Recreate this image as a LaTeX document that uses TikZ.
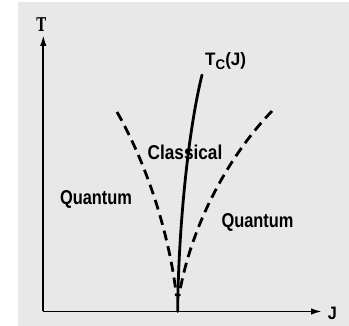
\documentclass[tikz,border=0pt]{standalone}
\usepackage{fontspec}
\usepackage{graphicx}
\setsansfont{Liberation Sans}
\newfontfamily\slabfont{DejaVu Serif}
\usetikzlibrary{arrows.meta}
\newcommand{\narrow}[2]{\scalebox{#1}[1]{#2}}
\begin{document}
\begin{tikzpicture}[x=1pt,y=-1pt,
  lbl/.style={font=\sffamily\bfseries\fontsize{20}{20}\selectfont, inner sep=0pt},
  axis/.style={line width=1.8pt, -{Latex[length=11pt,width=6.5pt]}},
  crit/.style={line width=2.8pt, line cap=round},
  xover/.style={line width=2.8pt, dash pattern=on 10pt off 6pt}]
\useasboundingbox (0,0) rectangle (349,326);
\fill[white] (0,0) rectangle (349,326);
\fill[black!9] (18,2) rectangle (349,326);
\coordinate (O) at (43.3,311.5);
\coordinate (Ttip) at (43.3,35);
\coordinate (Jtip) at (322,311.5);
\coordinate (Qc) at (177.7,311.5);
\coordinate (Ttop) at (202,75);
\coordinate (Ltop) at (117,112);
\coordinate (Lbot) at (176.5,296);
\coordinate (Rtop) at (272,111);
\coordinate (Rbot) at (179,296);
\draw[axis] (O) -- (Ttip);
\draw[axis] (O) -- (Jtip);
\draw[crit] (Qc) .. controls (178,245) and (186,140) .. (Ttop);
\draw[xover] (Ltop) .. controls (150,170) and (170,240) .. (Lbot);
\draw[xover] (Rtop) .. controls (225,160) and (190,230) .. (Rbot);
\node[font=\slabfont\bfseries\fontsize{19}{19}\selectfont, inner sep=0pt] (T) at (41.2,25) {\narrow{0.7}{T}};
\node[lbl, font=\sffamily\bfseries\fontsize{18}{18}\selectfont] (J) at (332.5,313.5) {\narrow{0.9}{J}};
\node[lbl, font=\sffamily\bfseries\fontsize{18}{18}\selectfont, anchor=west] (Tc) at (205,61) {\narrow{0.95}{T\raisebox{-0.5ex}{\fontsize{14}{14}\selectfont C}(J)}};
\node[lbl] (cl) at (185,152) {\narrow{0.86}{Classical}};
\node[lbl] (q1) at (96,199) {\narrow{0.82}{Quantum}};
\node[lbl] (q2) at (257.5,222) {\narrow{0.82}{Quantum}};
\end{tikzpicture}
\end{document}
